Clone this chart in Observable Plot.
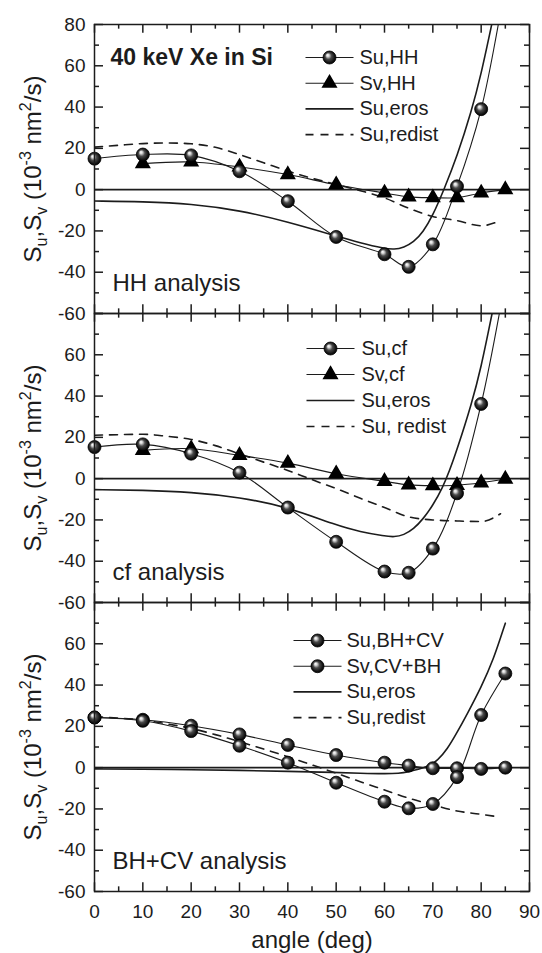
<!DOCTYPE html>
<html>
<head>
<meta charset="utf-8">
<script src="https://cdn.jsdelivr.net/npm/d3@7"></script>
<script src="https://cdn.jsdelivr.net/npm/@observablehq/plot@0.6"></script>
<style>
  html, body { margin: 0; padding: 0; background: #fff; }
  #chart { width: 542px; height: 953px; }
</style>
</head>
<body>
<div id="chart"></div>
<script>
// ---------------- data ----------------
const panels = ["HH", "cf", "BH"];
const panelLabels = ["HH analysis", "cf analysis", "BH+CV analysis"];
const titleText = "40 keV Xe in Si";

// measured angles
const angleSu = [0, 10, 20, 30, 40, 50, 60, 65, 70, 75, 80];
const angleSv = [10, 20, 30, 40, 50, 60, 65, 70, 75, 80, 85];
const angleBH = [0, 10, 20, 30, 40, 50, 60, 65, 70, 75, 80, 85];

// HH analysis
const suHH = [15, 17, 16.6, 8.9, -5.6, -22.9, -31.3, -37.4, -26.5, 1.6, 39];
const svHH = [12.6, 13.4, 11, 7.3, 2.4, -1.6, -3.5, -3.9, -3.9, -1.6, 0];
// cf analysis
const suCf = [15.3, 16.6, 12.1, 2.9, -14, -30.6, -45, -45.6, -33.9, -7.1, 36.2];
const svCf = [13.7, 14.5, 11.3, 7.5, 2.4, -1.3, -3, -3.4, -3.2, -2, -0.2];
// BH+CV analysis
const suBH = [24.3, 22.7, 17.7, 10.6, 2.4, -7.3, -16.5, -19.7, -17.6, -4.6, 25.5, 45.6];
const svBH = [24.3, 23.2, 20.3, 16.1, 11, 6.1, 2.4, 1, -0.3, -0.3, -0.6, 0];

// fitted continuation of Su beyond the last point (runs off the top)
const tailAngle = [84];
const suHHTail = [86];
const suCfTail = [83];

// Su,eros curves
const erosAngleHH = [0, 10, 20, 30, 40, 50, 55, 60, 62, 64, 66, 68, 70, 72.3, 75, 78, 80, 82, 84];
const erosHH = [-5.5, -5.8, -6.8, -10, -15.6, -22.5, -25.8, -28.5, -29, -28, -25.5, -20.5, -12.5, 0, 16, 38, 56, 78, 100];
const erosAngleCf = [0, 10, 20, 30, 40, 50, 55, 60, 62, 64, 66, 68, 70, 72, 73.4, 75, 78, 80, 82, 84];
const erosCf = [-5.3, -5.6, -6.5, -9, -13.7, -22.6, -25.8, -27.8, -28.3, -27.3, -24.5, -19.5, -13, -4.5, 3.5, 14, 36, 54, 77, 100];
const erosAngleBH = [0, 10, 20, 30, 40, 50, 55, 60, 63, 65, 67, 69, 71, 73, 75, 77, 80, 82.5, 85];
const erosBH = [-0.6, -0.8, -1, -1.3, -1.8, -2.3, -2.7, -3, -2.8, -2, -0.8, 0.5, 3.5, 9, 17, 25.5, 39, 52, 70];

// Su,redist curves
const redistAngle = [0, 5, 10, 15, 20, 25, 30, 35, 40, 45, 50, 55, 60, 65, 70, 75, 80, 84];
const redistHH = [20.6, 21.5, 22.3, 22.6, 22.2, 20.5, 17, 13, 9, 5.5, 2.5, -0.5, -4, -9, -13, -15, -17.5, -15];
const redistCf = [21, 21.3, 21.5, 20.5, 19, 16, 12, 8, 4, -0.5, -4.8, -9.5, -14, -18.5, -20, -20.5, -20.8, -17];
const redistBH = [24.7, 24, 23, 21.2, 19, 16, 12.6, 9, 5.3, 1.3, -2.7, -6.8, -10.8, -14.8, -18, -21, -22.6, -24];

// axis ticks
const xTickLabels = [0, 10, 20, 30, 40, 50, 60, 70, 80, 90];
const xMinorTicks = [5, 15, 25, 35, 45, 55, 65, 75, 85];
const yTickLabels = [-60, -40, -20, 0, 20, 40, 60, 80];
const yMinorTicks = [-50, -30, -10, 10, 30, 50, 70];

// legends
const legendHH = ["Su,HH", "Sv,HH", "Su,eros", "Su,redist"];
const legendCf = ["Su,cf", "Sv,cf", "Su,eros", "Su, redist"];
const legendBH = ["Su,BH+CV", "Sv,CV+BH", "Su,eros", "Su,redist"];
const legendKindsTri = ["ball", "tri", "solid", "dash"];
const legendKindsBH = ["ball", "ball", "solid", "dash"];

const yTitle = "Su,Sv (10-3 nm2/s)";
const xTitle = "angle (deg)";

// ---------------- build tables ----------------
const rows = (panel, series, xs, ys) => xs.map((x, i) => ({panel, series, angle: x, value: ys[i]}));

const suPoints = [...rows("HH", "su", angleSu, suHH), ...rows("cf", "su", angleSu, suCf), ...rows("BH", "su", angleBH, suBH)];
const svTriPoints = [...rows("HH", "sv", angleSv, svHH), ...rows("cf", "sv", angleSv, svCf)];
const svBallPoints = rows("BH", "sv", angleBH, svBH);
const connectLines = [
  ...rows("HH", "su", angleSu, suHH), ...rows("HH", "su", tailAngle, suHHTail),
  ...rows("HH", "sv", angleSv, svHH),
  ...rows("cf", "su", angleSu, suCf), ...rows("cf", "su", tailAngle, suCfTail),
  ...rows("cf", "sv", angleSv, svCf),
  ...rows("BH", "su", angleBH, suBH),
  ...rows("BH", "sv", angleBH, svBH)
];
const erosLines = [...rows("HH", "eros", erosAngleHH, erosHH), ...rows("cf", "eros", erosAngleCf, erosCf), ...rows("BH", "eros", erosAngleBH, erosBH)];
const redistLines = [...rows("HH", "redist", redistAngle, redistHH), ...rows("cf", "redist", redistAngle, redistCf), ...rows("BH", "redist", redistAngle, redistBH)];

// ---------------- layout ----------------
const W = 542, H = 953;
const mTop = 23, mBottom = 62, mLeft = 94, mRight = 13;
const frameW = W - mLeft - mRight;
const facetH = (H - mTop - mBottom) / panels.length;
const majorLen = 9, minorLen = 5;
const ink = "#1c1c1c";
const FONT = "'Liberation Sans', Arial, Helvetica, sans-serif";

const legendLine = {draw(ctx) { ctx.moveTo(-24, 0); ctx.lineTo(24, 0); }};
const legendSpec = [
  {panel: "HH", labels: legendHH, kinds: legendKindsTri, lx: 235, tx: 265, y0: 33, step: 25.7},
  {panel: "cf", labels: legendCf, kinds: legendKindsTri, lx: 236, tx: 267, y0: 35, step: 26},
  {panel: "BH", labels: legendBH, kinds: legendKindsBH, lx: 223, tx: 252, y0: 38, step: 25.7}
];

const legendMarks = [];
for (const spec of legendSpec) {
  spec.labels.forEach((label, i) => {
    const kind = spec.kinds[i];
    const d = [{panel: spec.panel, label}];
    const dy = spec.y0 + i * spec.step;
    legendMarks.push(Plot.dot(d, {
      fy: "panel", frameAnchor: "top-left", dx: spec.lx, dy,
      symbol: legendLine, r: 1, fill: "none", stroke: ink,
      strokeWidth: (kind === "solid" || kind === "dash") ? 1.6 : 1.1,
      strokeDasharray: kind === "dash" ? "8,7" : null
    }));
    if (kind === "ball") {
      legendMarks.push(Plot.dot(d, {fy: "panel", frameAnchor: "top-left", dx: spec.lx, dy, r: 6.5, fill: "url(#ball)", stroke: "#000", strokeWidth: 0.8}));
    } else if (kind === "tri") {
      legendMarks.push(Plot.dot(d, {fy: "panel", frameAnchor: "top-left", dx: spec.lx, dy, r: 5, symbol: "triangle", fill: "#000", stroke: "#000"}));
    }
    legendMarks.push(Plot.text(d, {fy: "panel", frameAnchor: "top-left", dx: spec.tx, dy, text: "label", textAnchor: "start", lineAnchor: "middle", fontSize: 20, fill: ink}));
  });
}

const panelRows = panels.map((p, i) => ({panel: p, label: panelLabels[i], ytitle: yTitle}));

const chart = Plot.plot({
  width: W,
  height: H,
  marginTop: mTop,
  marginBottom: mBottom,
  marginLeft: mLeft,
  marginRight: mRight,
  style: {fontFamily: FONT, fontSize: "19px", background: "#fff", color: ink},
  x: {domain: [0, 90], label: null},
  y: {domain: [-60, 80], label: null},
  fy: {domain: panels, padding: 0, axis: null, label: null},
  marks: [
    // zero line
    Plot.ruleY([0], {stroke: ink, strokeWidth: 1.6}),
    // inward ticks
    Plot.ruleX(xTickLabels, {insetBottom: facetH - majorLen, stroke: ink, strokeWidth: 1.5}),
    Plot.ruleX(xTickLabels, {insetTop: facetH - majorLen, stroke: ink, strokeWidth: 1.5}),
    Plot.ruleX(xMinorTicks, {insetBottom: facetH - minorLen, stroke: ink, strokeWidth: 1.5}),
    Plot.ruleX(xMinorTicks, {insetTop: facetH - minorLen, stroke: ink, strokeWidth: 1.5}),
    Plot.ruleY(yTickLabels, {insetRight: frameW - majorLen, stroke: ink, strokeWidth: 1.5}),
    Plot.ruleY(yTickLabels, {insetLeft: frameW - majorLen, stroke: ink, strokeWidth: 1.5}),
    Plot.ruleY(yMinorTicks, {insetRight: frameW - minorLen, stroke: ink, strokeWidth: 1.5}),
    Plot.ruleY(yMinorTicks, {insetLeft: frameW - minorLen, stroke: ink, strokeWidth: 1.5}),
    // model curves
    Plot.line(redistLines, {x: "angle", y: "value", fy: "panel", z: "panel", curve: "monotone-x", stroke: ink, strokeWidth: 1.6, strokeDasharray: "8,7", clip: true}),
    Plot.line(erosLines, {x: "angle", y: "value", fy: "panel", z: "panel", curve: "basis", stroke: ink, strokeWidth: 1.6, clip: true}),
    // connecting lines of the measured series
    Plot.line(connectLines, {x: "angle", y: "value", fy: "panel", z: "series", curve: "catmull-rom", stroke: ink, strokeWidth: 1.1, clip: true}),
    // markers
    Plot.dot(svTriPoints, {x: "angle", y: "value", fy: "panel", symbol: "triangle", r: 5, fill: "#000", stroke: "#000"}),
    Plot.dot(svBallPoints, {x: "angle", y: "value", fy: "panel", r: 6.5, fill: "url(#ball)", stroke: "#000", strokeWidth: 0.8}),
    Plot.dot(suPoints, {x: "angle", y: "value", fy: "panel", r: 6.5, fill: "url(#ball)", stroke: "#000", strokeWidth: 0.8}),
    // frame
    Plot.frame({stroke: ink, strokeWidth: 1.5}),
    // axes
    Plot.axisY(yTickLabels.filter(v => v < 80), {tickSize: 0, tickPadding: 9, tickFormat: d => String(d), fontSize: 19, label: null, fill: ink}),
    Plot.text([{panel: "HH", v: 80}], {y: "v", fy: "panel", frameAnchor: "left", dx: -9, text: d => String(d.v), textAnchor: "end", lineAnchor: "middle", fontSize: 19, fill: ink}),
    Plot.axisX(xTickLabels, {tickSize: 0, tickPadding: 13, tickFormat: d => String(d), fontSize: 19, label: null, fill: ink}),
    Plot.text([{panel: "BH", t: xTitle}], {fy: "panel", frameAnchor: "bottom", dy: 49, text: "t", lineAnchor: "middle", fontSize: 24, fill: ink}),
    // y titles
    Plot.text(panelRows, {fy: "panel", frameAnchor: "left", dx: -54, rotate: -90, text: "ytitle", lineAnchor: "bottom", textAnchor: "middle", fontSize: 24, fill: ink}),
    // panel labels
    Plot.text(panelRows, {fy: "panel", frameAnchor: "bottom-left", dx: 18, dy: -30, text: "label", textAnchor: "start", lineAnchor: "middle", fontSize: 24, fill: ink}),
    // title
    Plot.text([{panel: "HH", t: titleText}], {fy: "panel", frameAnchor: "top-left", dx: 16, dy: 33, text: "t", textAnchor: "start", lineAnchor: "middle", fontSize: 23, fontWeight: "bold", fill: ink}),
    ...legendMarks
  ]
});

// ball gradient
const NS = "http://www.w3.org/2000/svg";
const defs = document.createElementNS(NS, "defs");
defs.innerHTML = '<radialGradient id="ball" cx="0.5" cy="0.5" r="0.55" fx="0.34" fy="0.3">' +
  '<stop offset="0" stop-color="#ffffff"/><stop offset="0.18" stop-color="#d8d8d8"/>' +
  '<stop offset="0.45" stop-color="#4a4a4a"/><stop offset="0.8" stop-color="#111111"/><stop offset="1" stop-color="#000000"/></radialGradient>';
chart.insertBefore(defs, chart.firstChild);

// sub/superscripts in the y titles
chart.querySelectorAll("text").forEach(t => {
  if (t.textContent !== yTitle) return;
  t.textContent = "";
  const parts = [["S", 0, null], ["u", 6, 16], [",S", -6, null], ["v", 6, 16], [" (10", -6, null], ["-3", -10, 16], [" nm", 10, null], ["2", -10, 16], ["/s)", 10, null]];
  for (const [s, dy, fs] of parts) {
    const sp = document.createElementNS(NS, "tspan");
    sp.textContent = s;
    if (dy) sp.setAttribute("dy", dy);
    if (fs) sp.setAttribute("font-size", fs);
    t.appendChild(sp);
  }
});

document.getElementById("chart").appendChild(chart);
</script>
</body>
</html>
